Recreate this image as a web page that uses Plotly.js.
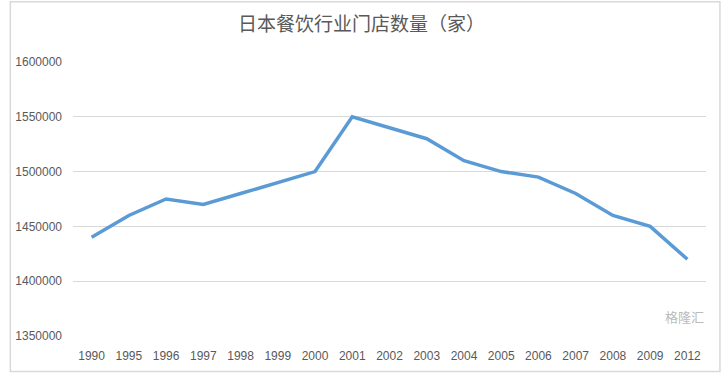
<!DOCTYPE html>
<html><head><meta charset="utf-8">
<script src="https://cdn.plot.ly/plotly-3.0.1.min.js"></script>
<style>html,body{margin:0;padding:0;background:#fff}#c{width:723px;height:373px}</style>
</head><body><div id="c"></div>
<script>
const years = ["1990","1995","1996","1997","1998","1999","2000","2001","2002","2003","2004","2005","2006","2007","2008","2009","2012"];
const stores = [1440000,1460000,1475000,1470000,1480000,1490000,1500000,1550000,1540000,1530000,1510000,1500000,1495000,1480000,1460000,1450000,1420000];
const yTicks = [1350000,1400000,1450000,1500000,1550000,1600000];

Plotly.newPlot('c', [{
  x: years, y: stores, type: 'scatter', mode: 'lines',
  line: {color: '#5B9BD5', width: 3.5}, hoverinfo: 'x+y'
}], {
  width: 723, height: 373,
  margin: {l: 73, r: 17, t: 62, b: 37},
  paper_bgcolor: '#fff', plot_bgcolor: '#fff',
  showlegend: false,
  title: {text: '日本餐饮行业门店数量（家）', x: 0.5, xanchor: 'center', y: 0.935, yanchor: 'middle',
    font: {family: 'Noto Sans CJK SC, sans-serif', size: 19, color: '#595959'}},
  xaxis: {type: 'category', range: [-0.5, 16.5], showgrid: false, zeroline: false, showline: false, ticks: '',
    ticklabelstandoff: 11,
    tickfont: {family: 'Liberation Sans, Arial, sans-serif', size: 12, color: '#595959'}},
  yaxis: {range: [1350000, 1600000], tickvals: yTicks, ticktext: yTicks.map(String),
    showgrid: true, gridcolor: '#D9D9D9', gridwidth: 1, zeroline: false, showline: false, ticks: '',
    ticklabelstandoff: 10,
    tickfont: {family: 'Liberation Sans, Arial, sans-serif', size: 12, color: '#595959'}},
  shapes: [{type: 'rect', xref: 'paper', yref: 'paper', x0: -0.099, x1: 1.022, y0: -0.13, y1: 1.22,
    line: {color: '#D9D9D9', width: 1.5}}],
  annotations: [{text: '格隆汇', xref: 'paper', yref: 'paper', x: 1.0, y: 0.03, xanchor: 'right', yanchor: 'bottom',
    showarrow: false, font: {family: 'Noto Sans CJK SC, sans-serif', size: 13, color: '#BBBBBB'}}]
}, {displayModeBar: false, staticPlot: true});
</script></body></html>
